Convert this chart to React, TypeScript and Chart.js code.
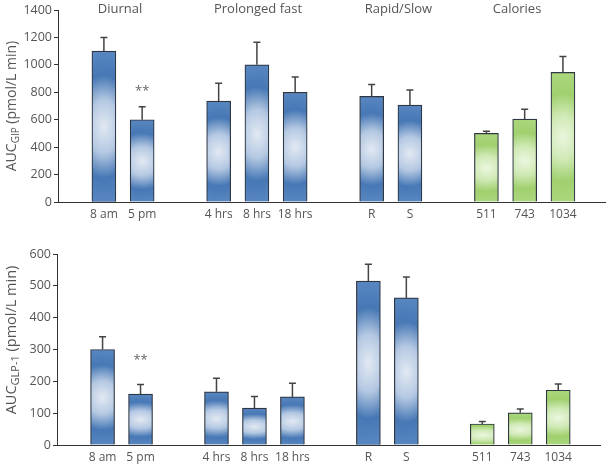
import React, { useEffect, useRef } from "react";
import { Chart, registerables } from "chart.js";
Chart.register(...registerables);
Chart.defaults.font.family = "'Open Sans', 'Noto Sans', sans-serif";

// ---- data ----
const categories = ["8 am", "5 pm", "4 hrs", "8 hrs", "18 hrs", "R", "S", "511", "743", "1034"];
// slot index of each bar along the x axis (groups separated by one empty slot)
const slots = [0, 1, 3, 4, 5, 7, 8, 10, 11, 12];
const groupTitles = ["Diurnal", "Prolonged fast", "Rapid/Slow", "Calories"];
const groupTitleSlots = [0.42, 4.03, 7.7, 10.8];
const calorieBars = [false, false, false, false, false, false, false, true, true, true];
const significance = ["", "**", "", "", "", "", "", "", "", ""];

const gipValues = [1100, 600, 735, 1000, 800, 770, 706, 500, 604, 945];
const gipErrors = [100, 95, 130, 165, 111, 86, 111, 15, 73, 116];
const gipTicks = [0, 200, 400, 600, 800, 1000, 1200, 1400];

const glpValues = [300, 160, 167, 116, 151, 515, 462, 66, 101, 172];
const glpErrors = [40, 30, 43, 36, 43, 53, 66, 8, 12, 20];
const glpTicks = [0, 100, 200, 300, 400, 500, 600];

const BLUE = { light: "#e2e9f3", mid: "#b4c8e2", dark: "#4778b5", edge: "#5886c0" };
const GREEN = { light: "#eaf6df", mid: "#cfe9b4", dark: "#a0d06e", edge: "#acd77e" };
const TEXT = "#555555";
const AXIS = "#333333";
const FONT = "'Open Sans', 'Noto Sans', sans-serif";
const BAR_W = 24;

type PanelCfg = {
  values: number[];
  errors: number[];
  ticks: number[];
  yMax: number;
  height: number;
  axisWidth: number;
  padTop: number;
  padRight: number;
  xAxisHeight: number;
  sub: string;
  titleSize: number;
  subSize: number;
  titleY: number;
  starOffset: number;
  showGroups: boolean;
};

function makeFill(chart: any, left: number, top: number, w: number, h: number, pal: any) {
  const W = Math.max(1, Math.ceil(w));
  const H = Math.max(1, Math.ceil(h));
  const off = document.createElement("canvas");
  off.width = W;
  off.height = H;
  const o = off.getContext("2d")!;
  const rx = 44;
  const ry = Math.max(H / 2, 14);
  o.translate(W / 2, H / 2);
  o.scale(1, ry / rx);
  const g = o.createRadialGradient(0, 0, 0, 0, 0, rx);
  g.addColorStop(0, pal.light);
  g.addColorStop(0.35, pal.mid);
  g.addColorStop(0.68, pal.dark);
  g.addColorStop(1, pal.edge);
  o.fillStyle = g;
  const span = (H * rx) / ry + 4;
  o.fillRect(-W, -span, 2 * W, 2 * span);
  const p = chart.ctx.createPattern(off, "no-repeat");
  if (p && (p as any).setTransform) {
    (p as any).setTransform(new DOMMatrix([1, 0, 0, 1, left, top]));
  }
  return p || pal.dark;
}

function makeChart(canvas: HTMLCanvasElement, cfg: PanelCfg) {
  const fill = (ctx: any) => {
    const i = ctx.dataIndex;
    const pal = calorieBars[i] ? GREEN : BLUE;
    const chart = ctx.chart;
    if (!chart.chartArea || ctx.type !== "data") return pal.dark;
    const xs = chart.scales.x;
    const ys = chart.scales.y;
    const cx = xs.getPixelForValue(slots[i]);
    const top = ys.getPixelForValue(cfg.values[i]);
    const bottom = ys.getPixelForValue(0);
    return makeFill(chart, cx - BAR_W / 2, top, BAR_W, bottom - top, pal);
  };

  const overlay = {
    id: "overlay",
    afterDatasetsDraw(chart: any) {
      const c = chart.ctx;
      const xs = chart.scales.x;
      const ys = chart.scales.y;
      c.save();
      c.strokeStyle = "#444";
      c.lineWidth = 1.5;
      cfg.values.forEach((v, i) => {
        const x = xs.getPixelForValue(slots[i]);
        const y0 = ys.getPixelForValue(v);
        const y1 = ys.getPixelForValue(v + cfg.errors[i]);
        c.beginPath();
        c.moveTo(x, y0);
        c.lineTo(x, y1);
        c.moveTo(x - 3.5, y1);
        c.lineTo(x + 3.5, y1);
        c.stroke();
        if (significance[i]) {
          c.fillStyle = "#666";
          c.font = `13px ${FONT}`;
          c.textAlign = "center";
          c.textBaseline = "middle";
          c.fillText(significance[i], x, y1 - cfg.starOffset);
        }
      });
      c.restore();
    },
    afterDraw(chart: any) {
      const c = chart.ctx;
      const xs = chart.scales.x;
      c.save();
      c.fillStyle = TEXT;
      if (cfg.showGroups) {
        c.font = `13px ${FONT}`;
        c.textAlign = "center";
        c.textBaseline = "middle";
        groupTitles.forEach((t, i) => {
          c.fillText(t, xs.getPixelForValue(groupTitleSlots[i]), 9);
        });
      }
      // rotated y title with subscript
      const main = "AUC";
      const rest = " (pmol/L min)";
      const bigF = `${cfg.titleSize}px ${FONT}`;
      const smallF = `${cfg.subSize}px ${FONT}`;
      c.font = bigF;
      const w1 = c.measureText(main).width;
      const w3 = c.measureText(rest).width;
      c.font = smallF;
      const w2 = c.measureText(cfg.sub).width;
      const total = w1 + w2 + w3;
      c.translate(15.5, cfg.titleY);
      c.rotate(-Math.PI / 2);
      c.textAlign = "left";
      c.textBaseline = "alphabetic";
      let x = -total / 2;
      c.font = bigF;
      c.fillText(main, x, 0);
      x += w1;
      c.font = smallF;
      c.fillText(cfg.sub, x, 3);
      x += w2;
      c.font = bigF;
      c.fillText(rest, x, 0);
      c.restore();
    },
  };

  return new Chart(canvas, {
    type: "bar",
    data: {
      datasets: [
        {
          data: cfg.values.map((v, i) => ({ x: slots[i], y: v })),
          backgroundColor: fill,
          borderColor: "#2e3642",
          borderWidth: 1.2,
          barThickness: BAR_W,
        } as any,
      ],
    },
    options: {
      animation: false,
      responsive: false,
      events: [],
      layout: { padding: { top: cfg.padTop, right: cfg.padRight, left: 0, bottom: 0 } },
      plugins: { legend: { display: false }, tooltip: { enabled: false } },
      scales: {
        x: {
          type: "linear",
          offset: false,
          min: -1.2,
          max: 13.1,
          afterBuildTicks: (s: any) => {
            s.ticks = slots.map((v) => ({ value: v }));
          },
          afterFit: (s: any) => {
            s.height = cfg.xAxisHeight;
          },
          grid: { display: false, drawTicks: false },
          border: { display: true, color: AXIS, width: 1 },
          ticks: {
            autoSkip: false,
            maxRotation: 0,
            minRotation: 0,
            padding: 5,
            color: TEXT,
            font: { size: 12, family: FONT },
            callback: (v: any) => {
              const k = slots.indexOf(Number(v));
              return k >= 0 ? categories[k] : "";
            },
          },
        },
        y: {
          min: 0,
          max: cfg.yMax,
          afterBuildTicks: (s: any) => {
            s.ticks = cfg.ticks.map((v) => ({ value: v }));
          },
          afterFit: (s: any) => {
            s.width = cfg.axisWidth;
          },
          grid: { display: true, drawOnChartArea: false, drawTicks: true, tickLength: 4, color: AXIS },
          border: { display: true, color: AXIS, width: 1 },
          ticks: {
            padding: 2,
            color: TEXT,
            font: { size: 12.5, family: FONT },
            callback: (v: any) => String(v),
          },
        },
      },
    },
    plugins: [overlay],
  } as any);
}

const topCfg: PanelCfg = {
  values: gipValues,
  errors: gipErrors,
  ticks: gipTicks,
  yMax: 1400,
  height: 230,
  axisWidth: 58,
  padTop: 10,
  padRight: 2,
  xAxisHeight: 28,
  sub: "GIP",
  titleSize: 14,
  subSize: 10,
  titleY: 106,
  starOffset: 15,
  showGroups: true,
};

const bottomCfg: PanelCfg = {
  values: glpValues,
  errors: glpErrors,
  ticks: glpTicks,
  yMax: 600,
  height: 236,
  axisWidth: 57,
  padTop: 24,
  padRight: 7,
  xAxisHeight: 21,
  sub: "GLP-1",
  titleSize: 14.5,
  subSize: 11,
  titleY: 110,
  starOffset: 24,
  showGroups: false,
};

function Panel({ cfg }: { cfg: PanelCfg }) {
  const ref = useRef<HTMLCanvasElement | null>(null);
  useEffect(() => {
    if (!ref.current) return;
    const ch = makeChart(ref.current, cfg);
    return () => ch.destroy();
  }, [cfg]);
  return (
    <canvas
      ref={ref}
      width={607}
      height={cfg.height}
      style={{ display: "block", width: 607, height: cfg.height }}
    />
  );
}

export default function App() {
  useEffect(() => {
    document.body.style.margin = "0";
    document.body.style.background = "#ffffff";
  }, []);
  return (
    <div style={{ position: "absolute", left: 0, top: 0, width: 607, height: 466, background: "#fff" }}>
      <Panel cfg={topCfg} />
      <Panel cfg={bottomCfg} />
    </div>
  );
}
